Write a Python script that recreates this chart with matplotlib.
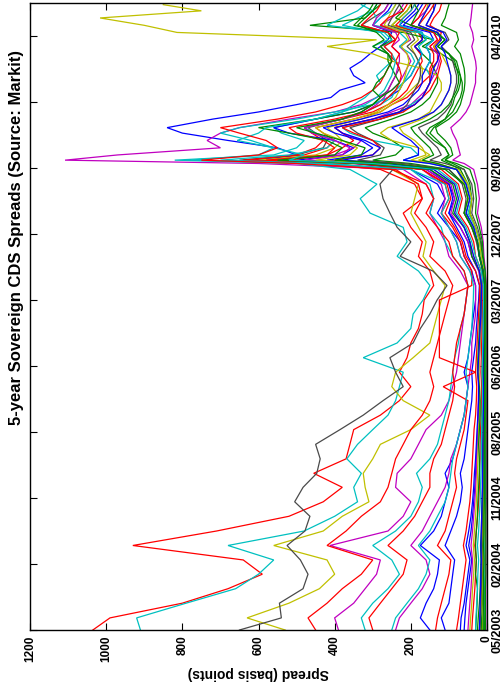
import matplotlib
matplotlib.use('Agg')
import matplotlib.pyplot as plt
import pandas as pd

plt.rcParams['font.family'] = ['Liberation Sans', 'DejaVu Sans']

title = '5-year Sovereign CDS Spreads (Source: Markit)'
xlabel = 'Spread (basis points)'
spread_ticks = [0, 200, 400, 600, 800, 1000, 1200]
date_labels = ['05/2003', '02/2004', '11/2004', '08/2005', '06/2006',
               '03/2007', '12/2007', '09/2008', '06/2009', '04/2010']

dates = ['2003-05-25', '2003-07-15', '2003-09-15', '2003-11-15',
         '2004-01-15', '2004-03-15', '2004-05-15', '2004-07-15', '2004-09-15', '2004-11-15',
         '2005-01-15', '2005-03-15', '2005-05-15', '2005-07-15', '2005-09-15', '2005-11-15',
         '2006-01-15', '2006-03-15', '2006-05-15', '2006-07-15', '2006-09-15', '2006-11-15',
         '2007-01-15', '2007-03-15', '2007-05-15', '2007-07-15', '2007-09-15', '2007-11-15',
         '2008-01-15', '2008-03-15', '2008-05-15', '2008-07-15', '2008-09-15', '2008-10-10',
         '2008-10-24', '2008-11-15', '2008-12-15',
         '2009-01-15', '2009-02-15', '2009-03-10', '2009-04-15', '2009-05-15', '2009-06-15',
         '2009-07-15', '2009-08-15', '2009-09-15', '2009-10-15', '2009-11-15', '2009-12-15',
         '2010-01-15', '2010-02-15', '2010-03-15', '2010-04-15', '2010-05-15', '2010-06-15',
         '2010-07-15', '2010-08-10']

red1 = [1035, 990, 800, 680, 590, 640, 930, 710, 520, 430, 380, 455, 370, 360, 350, 280, 230, 200, 230, 210,
        200, 180, 170, 165, 140, 150, 180, 170, 200, 220, 170, 190, 280, 450, 620, 480, 420, 400, 430, 450,
        350, 280, 250, 210, 190, 170, 150, 145, 130, 130, 140, 125, 120, 150, 140, 125, 120]
gray1 = [650, 540, 545, 483, 470, 490, 525, 478, 465, 505, 483, 447, 438, 450, 386, 325, 273, 220, 240, 255,
         194, 175, 150, 131, 105, 142, 228, 200, 236, 255, 273, 281, 247, 300, 650, 500, 430, 420, 450, 470,
         380, 330, 300, 280, 260, 250, 240, 230, 240, 260, 280, 240, 260, 330, 300, 270, 260]
cyan1 = [910, 920, 790, 660, 600, 560, 680, 480, 400, 340, 350, 330, 368, 340, 300, 260, 240, 230, 220, 325,
         236, 200, 194, 168, 150, 180, 236, 210, 220, 307, 333, 289, 360, 500, 820, 560, 500, 480, 540, 560,
         450, 380, 350, 320, 300, 280, 290, 270, 250, 260, 300, 260, 280, 380, 340, 300, 290]
yellow1 = [530, 630, 520, 440, 400, 420, 560, 430, 380, 310, 320, 325, 300, 280, 200, 150, 220, 250, 240, 194,
           150, 140, 130, 120, 110, 140, 168, 160, 180, 200, 190, 180, 250, 400, 600, 450, 400, 380, 400, 420,
           330, 280, 250, 220, 200, 180, 170, 170, 180, 190, 200, 180, 190, 250, 230, 210, 200]
red2 = [450, 470, 420, 380, 330, 300, 420, 370, 330, 280, 260, 250, 240, 220, 200, 170, 150, 140, 150, 140,
        130, 120, 110, 100, 90, 110, 150, 140, 160, 190, 170, 180, 240, 420, 640, 500, 450, 430, 460, 480,
        380, 300, 260, 230, 210, 200, 190, 180, 170, 175, 190, 170, 180, 240, 220, 200, 190]
magenta1 = [390, 400, 350, 320, 290, 280, 412, 260, 220, 200, 240, 236, 200, 180, 160, 120, 100, 90, 80, 75,
            70, 65, 60, 55, 50, 70, 100, 110, 130, 150, 140, 160, 220, 600, 1108, 970, 700, 735, 700, 650,
            520, 400, 330, 290, 250, 230, 220, 210, 200, 210, 230, 200, 210, 280, 250, 230, 220]
cyan2 = [320, 330, 300, 260, 230, 250, 300, 240, 200, 180, 170, 185, 150, 130, 120, 110, 100, 95, 90, 85,
         75, 70, 60, 55, 50, 60, 90, 110, 120, 150, 140, 150, 200, 420, 700, 520, 420, 400, 450, 480,
         380, 320, 280, 250, 240, 220, 210, 200, 190, 200, 230, 210, 230, 300, 280, 250, 240]
magenta2 = [240, 230, 200, 170, 150, 160, 200, 170, 150, 130, 110, 100, 95, 80, 70, 60, 55, 50, 45, 40,
            40, 35, 30, 30, 30, 45, 70, 80, 100, 120, 110, 120, 170, 300, 560, 400, 350, 330, 380, 400,
            300, 250, 200, 180, 160, 150, 140, 130, 125, 130, 150, 130, 140, 200, 180, 160, 150]
blue1 = [150, 175, 160, 140, 130, 125, 175, 140, 120, 110, 100, 110, 90, 80, 70, 60, 55, 50, 60, 50,
         45, 40, 35, 30, 30, 40, 60, 70, 100, 130, 110, 130, 200, 350, 600, 500, 550, 680, 800, 840,
         720, 600, 500, 410, 386, 320, 350, 360, 330, 307, 280, 260, 250, 300, 280, 260, 250]
red3 = [135, 130, 120, 110, 100, 95, 130, 110, 100, 90, 80, 85, 80, 70, 60, 55, 50, 115, 30, 125,
        125, 125, 125, 125, 40, 40, 60, 70, 90, 120, 100, 110, 170, 300, 580, 420, 380, 350, 380, 400,
        300, 230, 190, 170, 150, 140, 130, 125, 120, 125, 140, 120, 130, 180, 165, 150, 140]
blue2 = [110, 120, 100, 95, 90, 85, 110, 95, 80, 70, 65, 70, 60, 55, 50, 45, 40, 38, 40, 35,
         30, 28, 25, 22, 20, 30, 50, 60, 80, 100, 90, 100, 160, 320, 500, 380, 350, 400, 520, 560,
         450, 350, 300, 260, 230, 220, 200, 190, 180, 170, 190, 170, 170, 230, 210, 190, 180]
green1 = [20, 18, 15, 14, 12, 11, 12, 10, 9, 8, 8, 8, 7, 7, 6, 6, 5, 5, 6, 6, 5, 5, 5, 5, 5,
          10, 20, 25, 40, 60, 50, 60, 100, 200, 300, 240, 220, 250, 300, 320, 250, 200, 170, 150, 140, 130,
          130, 140, 150, 170, 190, 160, 180, 250, 230, 210, 200]
green2 = [15, 14, 12, 11, 10, 10, 11, 9, 8, 7, 7, 7, 8, 8, 7, 6, 6, 6, 7, 6, 6, 5, 5, 5, 5,
          8, 15, 18, 30, 45, 40, 45, 60, 90, 110, 100, 110, 140, 160, 150, 110, 90, 80, 70, 65, 65,
          70, 80, 90, 120, 170, 140, 220, 465, 320, 300, 280]
yellow2 = [20, 18, 15, 14, 13, 12, 14, 12, 11, 10, 10, 10, 11, 11, 10, 9, 9, 8, 10, 9, 8, 8, 7, 7, 8,
           12, 20, 25, 40, 60, 50, 60, 80, 130, 180, 150, 180, 250, 280, 260, 180, 150, 140, 130, 120, 120,
           130, 170, 250, 300, 420, 290, 814, 900, 1016, 750, 850]
cyan3 = [10, 9, 8, 8, 7, 7, 7, 6, 6, 5, 5, 5, 5, 5, 5, 4, 4, 4, 4, 4, 4, 4, 4, 4, 4,
         6, 15, 20, 30, 50, 40, 50, 80, 150, 220, 180, 200, 300, 360, 380, 280, 220, 200, 170, 160, 150,
         150, 160, 150, 150, 160, 140, 180, 300, 290, 300, 330]
green3 = [6, 6, 5, 5, 5, 5, 5, 4, 4, 4, 4, 4, 4, 4, 4, 3, 3, 3, 3, 3, 3, 3, 3, 3, 3,
          5, 12, 18, 30, 45, 40, 50, 70, 100, 120, 100, 110, 130, 150, 140, 110, 100, 90, 85, 75, 70,
          70, 75, 80, 100, 130, 110, 140, 200, 240, 220, 230]
green4 = [25, 23, 20, 18, 17, 16, 17, 15, 14, 13, 12, 12, 13, 14, 13, 12, 11, 11, 12, 11, 10, 10, 9, 9, 9,
          12, 20, 25, 35, 55, 45, 55, 80, 130, 170, 140, 150, 170, 190, 200, 150, 120, 100, 90, 80, 75,
          75, 80, 85, 100, 130, 110, 130, 200, 190, 180, 190]
green5 = [30, 28, 26, 25, 30, 28, 30, 28, 25, 24, 22, 20, 20, 22, 20, 18, 18, 20, 25, 24, 22, 20, 18, 16, 15,
          20, 40, 45, 60, 90, 80, 90, 150, 330, 550, 400, 380, 420, 520, 600, 450, 350, 300, 280, 250, 230,
          240, 250, 260, 260, 280, 250, 260, 350, 330, 310, 300]
magenta3 = [3, 3, 3, 3, 3, 3, 3, 3, 3, 2, 2, 2, 2, 2, 2, 2, 2, 2, 2, 2, 2, 2, 2, 2, 2,
            4, 8, 10, 15, 25, 20, 25, 35, 60, 90, 70, 75, 80, 90, 95, 70, 55, 45, 40, 35, 30,
            30, 28, 30, 35, 40, 35, 38, 45, 42, 40, 38]
red5 = [40, 38, 35, 32, 30, 28, 32, 28, 25, 22, 20, 20, 18, 18, 17, 15, 14, 14, 16, 15, 14, 13, 12, 11, 10,
        15, 30, 35, 50, 75, 65, 75, 120, 250, 400, 300, 280, 300, 350, 380, 280, 220, 190, 170, 160, 150,
        150, 150, 140, 140, 150, 130, 140, 200, 180, 170, 160]
blue3 = [60, 58, 55, 50, 45, 40, 48, 42, 38, 35, 32, 30, 28, 26, 24, 22, 20, 20, 22, 20, 18, 16, 15, 14, 13,
         20, 40, 50, 70, 100, 85, 100, 150, 280, 420, 330, 300, 330, 400, 430, 330, 260, 220, 200, 180, 170,
         170, 160, 150, 150, 160, 140, 150, 220, 200, 180, 170]
gray2 = [8, 8, 7, 7, 6, 6, 6, 5, 5, 5, 5, 4, 4, 4, 4, 4, 4, 4, 4, 4, 4, 4, 4, 4, 4,
         6, 12, 15, 25, 40, 35, 40, 60, 110, 150, 120, 130, 150, 170, 180, 130, 110, 95, 90, 85, 80,
         80, 85, 90, 100, 120, 100, 110, 160, 150, 140, 140]
yellow3 = [12, 11, 10, 10, 9, 9, 9, 8, 8, 7, 7, 7, 7, 6, 6, 6, 6, 5, 6, 6, 5, 5, 5, 5, 5,
           8, 15, 20, 30, 45, 40, 50, 75, 140, 200, 160, 170, 190, 220, 230, 170, 140, 120, 110, 100, 95,
           95, 100, 110, 120, 140, 120, 130, 180, 170, 160, 155]
green6 = [4, 4, 4, 4, 3, 3, 3, 3, 3, 3, 3, 3, 3, 3, 3, 3, 3, 3, 3, 3, 3, 3, 3, 3, 3,
          5, 10, 12, 20, 30, 28, 32, 45, 80, 110, 90, 95, 110, 130, 135, 100, 80, 70, 65, 60, 58,
          58, 60, 65, 70, 85, 75, 80, 120, 110, 105, 100]
cyan4 = [250, 240, 210, 180, 160, 150, 180, 150, 130, 110, 100, 95, 90, 80, 70, 60, 55, 50, 55, 50, 45, 40, 38, 36, 35,
         45, 70, 80, 100, 120, 100, 110, 200, 450, 780, 600, 560, 620, 700, 650, 500, 400, 300, 260, 240, 220,
         200, 190, 180, 170, 180, 160, 170, 230, 220, 200, 190]
red6 = [80, 75, 70, 65, 60, 55, 62, 55, 50, 45, 42, 40, 38, 36, 34, 30, 28, 27, 30, 28, 26, 24, 22, 20, 19,
        30, 55, 65, 85, 110, 95, 105, 170, 350, 520, 420, 400, 430, 500, 520, 400, 320, 280, 260, 240, 230,
        225, 230, 240, 230, 250, 240, 230, 280, 260, 220, 210]
green7 = [10, 10, 9, 9, 9, 8, 9, 8, 8, 7, 7, 7, 7, 7, 7, 6, 6, 6, 7, 7, 6, 6, 6, 6, 6,
          10, 20, 25, 40, 60, 50, 60, 110, 250, 400, 330, 320, 380, 450, 500, 380, 330, 300, 280, 300, 290,
          270, 260, 250, 260, 300, 270, 290, 340, 320, 300, 290]
blue4 = [20, 19, 18, 17, 16, 15, 16, 15, 14, 13, 12, 12, 11, 11, 10, 10, 9, 9, 10, 9, 9, 8, 8, 7, 7,
         10, 20, 25, 35, 55, 45, 55, 80, 150, 220, 180, 180, 200, 230, 250, 180, 140, 120, 110, 100, 95,
         95, 100, 105, 110, 120, 105, 115, 160, 150, 140, 135]
blue5 = [70, 68, 60, 55, 50, 45, 55, 48, 42, 38, 35, 33, 30, 28, 26, 24, 22, 22, 24, 22, 20, 18, 16, 15, 14,
         20, 35, 45, 60, 85, 75, 85, 140, 260, 380, 300, 280, 320, 380, 400, 300, 230, 190, 170, 160, 150,
         145, 140, 130, 125, 135, 120, 130, 180, 170, 160, 150]
red7 = [300, 310, 280, 250, 220, 210, 260, 220, 190, 170, 150, 150, 140, 120, 110, 100, 90, 85, 90, 85,
        80, 70, 60, 55, 50, 60, 90, 100, 130, 160, 140, 160, 250, 500, 750, 600, 550, 580, 650, 700,
        550, 450, 380, 330, 300, 280, 270, 260, 250, 250, 270, 240, 260, 330, 310, 290, 280]
magenta4 = [50, 48, 45, 42, 40, 38, 42, 38, 35, 32, 30, 28, 27, 26, 25, 24, 23, 22, 24, 22, 20, 19, 18, 17, 16,
            22, 40, 50, 70, 95, 85, 95, 160, 320, 480, 380, 360, 400, 460, 480, 380, 320, 290, 270, 260, 250,
            240, 235, 230, 230, 250, 230, 240, 300, 290, 270, 260]
cyan5 = [30, 29, 27, 25, 24, 22, 25, 22, 20, 18, 17, 16, 15, 15, 14, 13, 12, 12, 13, 12, 11, 10, 10, 9, 9,
         15, 30, 40, 55, 80, 70, 80, 130, 300, 520, 480, 560, 656, 600, 580, 450, 380, 320, 290, 270, 260,
         250, 245, 240, 250, 270, 250, 270, 420, 380, 340, 320]
gray3 = [18, 17, 16, 15, 14, 13, 14, 13, 12, 11, 10, 10, 10, 9, 9, 9, 8, 8, 9, 8, 8, 7, 7, 7, 7,
         10, 20, 28, 40, 60, 55, 65, 100, 220, 340, 280, 270, 300, 340, 360, 280, 230, 210, 200, 190, 180,
         175, 175, 180, 190, 210, 190, 200, 260, 250, 240, 230]
yellow4 = [45, 43, 40, 38, 35, 33, 36, 33, 30, 28, 26, 25, 24, 23, 22, 20, 19, 19, 21, 20, 18, 17, 16, 15, 14,
           20, 35, 45, 60, 85, 75, 85, 140, 280, 450, 360, 340, 380, 430, 450, 350, 290, 260, 240, 230, 220,
           215, 210, 205, 210, 225, 205, 215, 270, 260, 250, 240]

RED, GREEN, BLUE, MAG, CYAN, YEL, GRAY = '#ff0000', '#008800', '#0000ff', '#c000c0', '#00c0c0', '#c0c000', '#4a4a4a'

series = [
    (red1, RED), (green1, GREEN), (blue1, BLUE), (magenta1, MAG), (cyan1, CYAN), (yellow1, YEL), (gray1, GRAY),
    (red2, RED), (green2, GREEN), (blue2, BLUE), (magenta2, MAG), (cyan2, CYAN), (yellow2, YEL), (gray2, GRAY),
    (red3, RED), (green3, GREEN), (blue3, BLUE), (magenta3, MAG), (cyan3, CYAN), (yellow3, YEL), (gray3, GRAY),
    (red5, RED), (green4, GREEN), (blue4, BLUE), (magenta4, MAG), (cyan4, CYAN), (yellow4, YEL),
    (red6, RED), (green5, GREEN), (blue5, BLUE), (cyan5, CYAN), (red7, RED),
    (green6, GREEN), (green7, GREEN),
]

start = pd.Timestamp('2003-05-25')
t = (pd.to_datetime(dates) - start).days.values
tick_step = 278
date_ticks = [k * tick_step for k in range(len(date_labels))]

fig = plt.figure(figsize=(5.03, 6.89), dpi=100)
ax = fig.add_axes([30 / 503, 59 / 689, 457 / 503, 627 / 689])

for vals, col in series:
    assert len(vals) == len(t), (len(vals), col)
    ax.plot(vals, t, color=col, lw=0.9, solid_joinstyle='miter')

ax.set_xlim(1200, 0)
ax.set_ylim(0, 2641)

ax.set_xticks(spread_ticks)
ax.set_xticklabels([str(v) for v in spread_ticks], rotation=90, fontweight='bold', fontsize=8.5)
ax.set_yticks(date_ticks)
ax.set_yticklabels(date_labels, rotation=90, fontweight='bold', fontsize=9, va='center')
ax.tick_params(axis='both', direction='in', length=5, width=0.8, top=True, right=True, left=True, bottom=True)
ax.tick_params(axis='y', labelleft=False, labelright=True, pad=3)
ax.tick_params(axis='x', pad=4)
for s in ax.spines.values():
    s.set_linewidth(1.0)

ax.set_xlabel(xlabel, rotation=180, fontweight='bold', fontsize=10, labelpad=3)
fig.text(17 / 503, 1 - 237 / 689, title, rotation=90, fontweight='bold', fontsize=12,
         ha='center', va='center')

fig.savefig('out.png', dpi=100)
